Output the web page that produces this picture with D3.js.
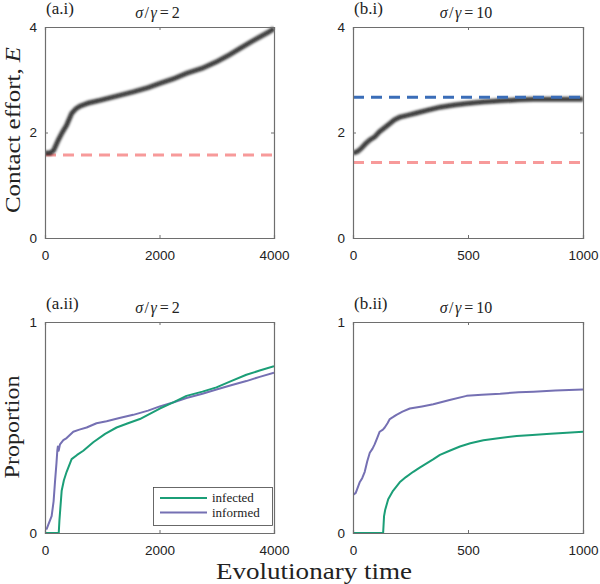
<!DOCTYPE html>
<html><head><meta charset="utf-8">
<script src="https://cdn.jsdelivr.net/npm/d3@7"></script>
<style>body{margin:0;background:#fff}svg{display:block}</style>
</head><body>
<svg id="c" width="600" height="584"></svg>
<script>
// ---- data ----
const effortA_t = [0, 87, 150, 233, 300, 378, 465, 540, 610, 760, 960, 1250, 1540, 1800, 2005, 2250, 2470, 2750, 2994, 3200, 3400, 3600, 3750, 3900, 4000];
const effortA_E = [1.61, 1.61, 1.66, 1.86, 2.00, 2.14, 2.36, 2.45, 2.50, 2.56, 2.61, 2.69, 2.77, 2.85, 2.93, 3.02, 3.12, 3.22, 3.34, 3.46, 3.59, 3.72, 3.81, 3.90, 3.97];
const effortA_red = 1.575;

const effortB_t = [0, 20, 36, 55, 73, 95, 116, 140, 160, 180, 203, 240, 276, 330, 378, 440, 494, 560, 640, 720, 785, 880, 1000];
const effortB_E = [1.61, 1.64, 1.70, 1.79, 1.86, 1.92, 2.02, 2.10, 2.17, 2.24, 2.29, 2.33, 2.37, 2.43, 2.48, 2.52, 2.55, 2.58, 2.60, 2.62, 2.63, 2.63, 2.63];
const effortB_red = 1.43;
const effortB_blue = 2.67;

const propA_t_inf = [0, 233, 240, 252, 291, 330, 378, 465, 560, 669, 843, 1050, 1250, 1450, 1657, 2005, 2250, 2471, 2750, 2994, 3250, 3517, 3750, 4000];
const propA_infected = [0, 0, 0, 0.06, 0.20, 0.25, 0.29, 0.35, 0.37, 0.39, 0.43, 0.47, 0.50, 0.52, 0.54, 0.59, 0.62, 0.65, 0.67, 0.69, 0.72, 0.75, 0.77, 0.79];
const propA_t_infm = [0, 30, 58, 116, 150, 174, 200, 215, 225, 238, 262, 320, 378, 494, 600, 727, 900, 1076, 1300, 1541, 1800, 2005, 2250, 2471, 2750, 2994, 3250, 3517, 3750, 4000];
const propA_informed = [0.02, 0.02, 0.04, 0.08, 0.15, 0.24, 0.33, 0.39, 0.41, 0.39, 0.42, 0.44, 0.45, 0.48, 0.49, 0.50, 0.52, 0.53, 0.545, 0.56, 0.58, 0.60, 0.62, 0.64, 0.66, 0.68, 0.70, 0.72, 0.74, 0.76];

const propB_t_inf = [0, 131, 135, 140, 153, 174, 203, 230, 262, 290, 320, 350, 378, 420, 465, 510, 567, 640, 712, 780, 858, 930, 1000];
const propB_infected = [0, 0, 0.08, 0.11, 0.16, 0.20, 0.24, 0.265, 0.29, 0.31, 0.33, 0.35, 0.37, 0.39, 0.41, 0.425, 0.44, 0.45, 0.46, 0.465, 0.47, 0.475, 0.48];
const propB_t_infm = [0, 12, 29, 40, 51, 62, 73, 85, 94, 105, 116, 130, 138, 150, 160, 175, 189, 215, 247, 300, 349, 420, 494, 560, 640, 720, 785, 880, 1000];
const propB_informed = [0.18, 0.19, 0.24, 0.26, 0.29, 0.34, 0.38, 0.40, 0.42, 0.45, 0.48, 0.49, 0.50, 0.52, 0.54, 0.55, 0.56, 0.575, 0.59, 0.60, 0.61, 0.63, 0.65, 0.655, 0.66, 0.667, 0.67, 0.675, 0.68];

const xTicksA = [0, 2000, 4000];
const xTicksB = [0, 500, 1000];
const yTicksTop = [0, 2, 4];
const yTicksBot = [0, 1];
const panelLabels = ["(a.i)", "(b.i)", "(a.ii)", "(b.ii)"];
const ratios = ["2", "10", "2", "10"];
const legendLabels = ["infected", "informed"];

// ---- style ----
const GREEN = "#1b9e77", PURPLE = "#7570b3", RED = "#f79a9a", BLUE = "#3a6db8";
const AXIS = "#6e6e6e";
const SERIF = "'Liberation Serif','Times New Roman',serif";
const SANS = "'Liberation Sans',Arial,Helvetica,sans-serif";

const svg = d3.select("#c");
const defs = svg.append("defs");
defs.append("filter").attr("id", "blur").attr("x", "-5%").attr("y", "-20%").attr("width", "110%").attr("height", "140%")
  .append("feGaussianBlur").attr("stdDeviation", 1.1);

const panels = [
  {x0: 45, x1: 274, y0: 27, y1: 238, xd: [0, 4000], yd: [0, 4], xt: xTicksA, yt: yTicksTop},
  {x0: 353, x1: 583, y0: 27, y1: 238, xd: [0, 1000], yd: [0, 4], xt: xTicksB, yt: yTicksTop},
  {x0: 45, x1: 274, y0: 322, y1: 533, xd: [0, 4000], yd: [0, 1], xt: xTicksA, yt: yTicksBot},
  {x0: 353, x1: 583, y0: 322, y1: 533, xd: [0, 1000], yd: [0, 1], xt: xTicksB, yt: yTicksBot}
];

panels.forEach((p, i) => {
  p.x = d3.scaleLinear().domain(p.xd).range([p.x0, p.x1]);
  p.y = d3.scaleLinear().domain(p.yd).range([p.y1, p.y0]);
  defs.append("clipPath").attr("id", "clip" + i).append("rect")
    .attr("x", p.x0).attr("y", p.y0 - 6).attr("width", p.x1 - p.x0).attr("height", p.y1 - p.y0 + 12);
  p.g = svg.append("g");
  p.plot = p.g.append("g").attr("clip-path", `url(#clip${i})`);
});

function axes(p, i) {
  const g = p.g;
  const gx = g.append("g").attr("transform", `translate(0,${p.y1})`)
    .call(d3.axisBottom(p.x).tickValues(p.xt).tickSize(-3).tickPadding(12).tickFormat(d3.format("d")));
  const gy = g.append("g").attr("transform", `translate(${p.x0},0)`)
    .call(d3.axisLeft(p.y).tickValues(p.yt).tickSize(-3).tickPadding(8).tickFormat(d3.format("d")));
  const gxt = g.append("g").attr("transform", `translate(0,${p.y0})`)
    .call(d3.axisTop(p.x).tickValues(p.xt).tickSize(-3).tickFormat(""));
  const gyr = g.append("g").attr("transform", `translate(${p.x1},0)`)
    .call(d3.axisRight(p.y).tickValues(p.yt).tickSize(-3).tickFormat(""));
  [gx, gy, gxt, gyr].forEach(a => {
    a.select(".domain").attr("stroke", AXIS).attr("stroke-width", 1.2);
    a.selectAll(".tick line").attr("stroke", AXIS);
    a.selectAll("text").attr("font-family", SANS).attr("font-size", 13.5).attr("fill", "#222");
  });
  // panel label
  g.append("text").attr("x", p.x0 + 1).attr("y", p.y0 - 13).text(panelLabels[i])
    .attr("font-family", SERIF).attr("font-size", 17).attr("fill", "#222");
  // title
  const t = g.append("text").attr("x", (p.x0 + p.x1) / 2 - 2).attr("y", p.y0 - 9)
    .attr("text-anchor", "middle").attr("font-family", SERIF).attr("font-size", 16).attr("fill", "#222");
  t.append("tspan").attr("font-style", "italic").text("σ");
  t.append("tspan").attr("dx", 1.5).text("/");
  t.append("tspan").attr("dx", 1.5).attr("font-style", "italic").text("γ");
  t.append("tspan").attr("dx", 3).text("=");
  t.append("tspan").attr("dx", 3).text(ratios[i]);
}

function band(p, ts, es) {
  const line = d3.line().x((d, k) => p.x(ts[k])).y(d => p.y(d));
  p.plot.append("path").datum(es).attr("d", line).attr("fill", "none")
    .attr("stroke", "#000").attr("stroke-opacity", 0.5).attr("stroke-width", 5.5).attr("filter", "url(#blur)");
  p.plot.append("path").datum(es).attr("d", line).attr("fill", "none")
    .attr("stroke", "#111").attr("stroke-opacity", 0.8).attr("stroke-width", 2.5).attr("filter", "url(#blur)");
}
function hline(p, v, color) {
  p.plot.append("line").attr("x1", p.x0).attr("x2", p.x1).attr("y1", p.y(v)).attr("y2", p.y(v))
    .attr("stroke", color).attr("stroke-width", 3).attr("stroke-dasharray", "11,7");
}
function curve(p, ts, vs, color) {
  const line = d3.line().x((d, k) => p.x(ts[k])).y(d => p.y(d));
  p.plot.append("path").datum(vs).attr("d", line).attr("fill", "none")
    .attr("stroke", color).attr("stroke-width", 2).attr("stroke-linejoin", "round");
}

// panel a.i
hline(panels[0], effortA_red, RED);
band(panels[0], effortA_t, effortA_E);
// panel b.i
hline(panels[1], effortB_red, RED);
band(panels[1], effortB_t, effortB_E);
hline(panels[1], effortB_blue, BLUE);
// panel a.ii
curve(panels[2], propA_t_infm, propA_informed, PURPLE);
curve(panels[2], propA_t_inf, propA_infected, GREEN);
// panel b.ii
curve(panels[3], propB_t_infm, propB_informed, PURPLE);
curve(panels[3], propB_t_inf, propB_infected, GREEN);

panels.forEach(axes);

// legend
const lg = svg.append("g");
lg.append("rect").attr("x", 153.5).attr("y", 487.5).attr("width", 119).attr("height", 38)
  .attr("fill", "#fff").attr("stroke", "#444").attr("stroke-width", 0.8);
[GREEN, PURPLE].forEach((c, k) => {
  const yy = 498 + k * 14.5;
  lg.append("line").attr("x1", 160).attr("x2", 207).attr("y1", yy).attr("y2", yy).attr("stroke", c).attr("stroke-width", 2);
  lg.append("text").attr("x", 212).attr("y", yy + 4).text(legendLabels[k])
    .attr("font-family", SERIF).attr("font-size", 13).attr("fill", "#222");
});

// axis titles
svg.append("text").attr("x", 314).attr("y", 579).attr("text-anchor", "middle")
  .attr("font-family", SERIF).attr("font-size", 23).attr("fill", "#222")
  .attr("textLength", 196).attr("lengthAdjust", "spacingAndGlyphs").text("Evolutionary time");
const yl1 = svg.append("text").attr("transform", "translate(20,130) rotate(-90)").attr("text-anchor", "middle")
  .attr("font-family", SERIF).attr("font-size", 20).attr("fill", "#222")
  .attr("textLength", 166).attr("lengthAdjust", "spacingAndGlyphs");
yl1.append("tspan").text("Contact effort, ");
yl1.append("tspan").attr("font-style", "italic").text("E");
svg.append("text").attr("transform", "translate(19,427) rotate(-90)").attr("text-anchor", "middle")
  .attr("font-family", SERIF).attr("font-size", 20).attr("fill", "#222")
  .attr("textLength", 103).attr("lengthAdjust", "spacingAndGlyphs").text("Proportion");
</script>
</body></html>
